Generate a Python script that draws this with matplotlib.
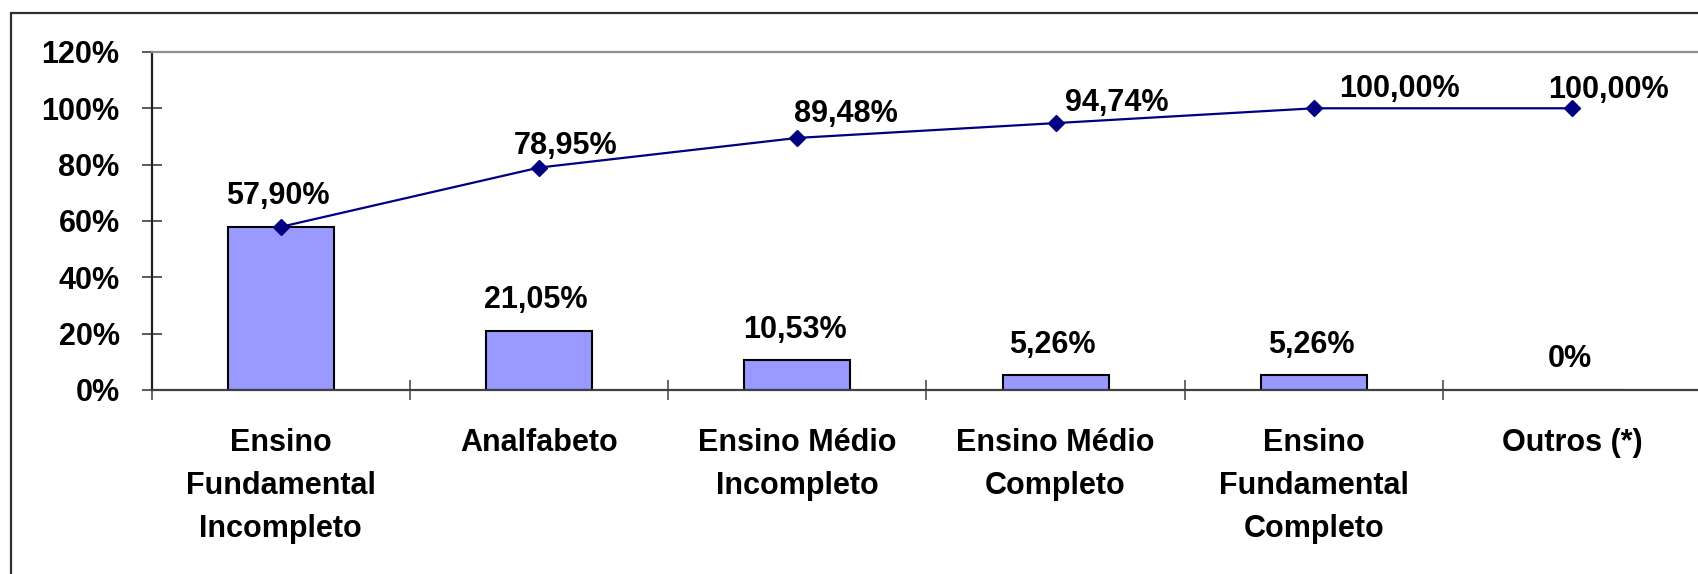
import matplotlib.pyplot as plt
import numpy as np
from matplotlib.patches import Rectangle

# Dados do gráfico de Pareto (escolaridade)
categorias = ['Ensino\nFundamental\nIncompleto', 'Analfabeto', 'Ensino Médio\nIncompleto',
              'Ensino Médio\nCompleto', 'Ensino\nFundamental\nCompleto', 'Outros (*)']
percentuais = [57.90, 21.05, 10.53, 5.26, 5.26, 0.0]
acumulado = [57.90, 78.95, 89.48, 94.74, 100.00, 100.00]
marcas_y = [0, 20, 40, 60, 80, 100, 120]


def formata(v):
    if v == 0:
        return '0%'
    return f'{v:.2f}'.replace('.', ',') + '%'


plt.rcParams['font.family'] = ['Liberation Sans', 'DejaVu Sans']
plt.rcParams['font.weight'] = 'bold'
plt.rcParams['font.size'] = 22

fig = plt.figure(figsize=(16.99, 5.74), dpi=100)
ax = fig.add_axes([0.0892, 0.3206, 0.9122, 0.5889])

# moldura externa
fig.patches.append(Rectangle((11 / 1699, -0.1), 1.2, 1.1 - 13 / 574, transform=fig.transFigure,
                             fill=False, edgecolor='#303030', linewidth=1.6))

x = np.arange(len(categorias)) + 0.5

# Barras
ax.bar(x, percentuais, width=0.41, color='#9999FF', edgecolor='black', linewidth=1.5, zorder=2)

# Linha acumulada
ax.plot(x, acumulado, color='#000080', linewidth=1.6, marker='D', markersize=8, zorder=3)

# rótulos das barras
for xi, v in zip(x, percentuais):
    ax.annotate(formata(v), (xi, v), xytext=(-2, 16.2), textcoords='offset points',
                ha='center', va='baseline', fontsize=22, fontweight='bold')

# rótulos da linha (o primeiro coincide com o da barra)
desloc_linha = [(27, 14), (49, 16), (61, 12), (86, 11), (36, 10)]
for (xi, v), (dx, dy) in zip(list(zip(x, acumulado))[1:], desloc_linha):
    ax.annotate(formata(v), (xi, v), xytext=(dx * 0.72, dy * 0.72), textcoords='offset points',
                ha='center', va='baseline', fontsize=22, fontweight='bold')

ax.set_xlim(0, len(categorias))
ax.set_ylim(0, 120)
ax.set_yticks(marcas_y)
ax.set_yticklabels([f'{m}%' for m in marcas_y])
ax.set_xticks(np.arange(len(categorias) + 1))
ax.set_xticklabels([])
ax.set_xticks(x, minor=True)
ax.set_xticklabels(categorias, minor=True, fontsize=22, fontweight='bold', linespacing=1.56)

ax.tick_params(axis='y', direction='inout', length=14.4, width=1.2, color='#404040', pad=15.8)
ax.tick_params(axis='x', which='major', direction='inout', length=14.4, width=1.2, color='#505050')
ax.tick_params(axis='x', which='minor', length=0, pad=27.6)

ax.spines['left'].set_color('#202020')
ax.spines['left'].set_linewidth(1.6)
ax.spines['bottom'].set_color('#404040')
ax.spines['bottom'].set_linewidth(1.6)
ax.spines['top'].set_color('#909090')
ax.spines['top'].set_linewidth(1.6)
ax.spines['right'].set_visible(False)

fig.savefig('out.png', dpi=100)
